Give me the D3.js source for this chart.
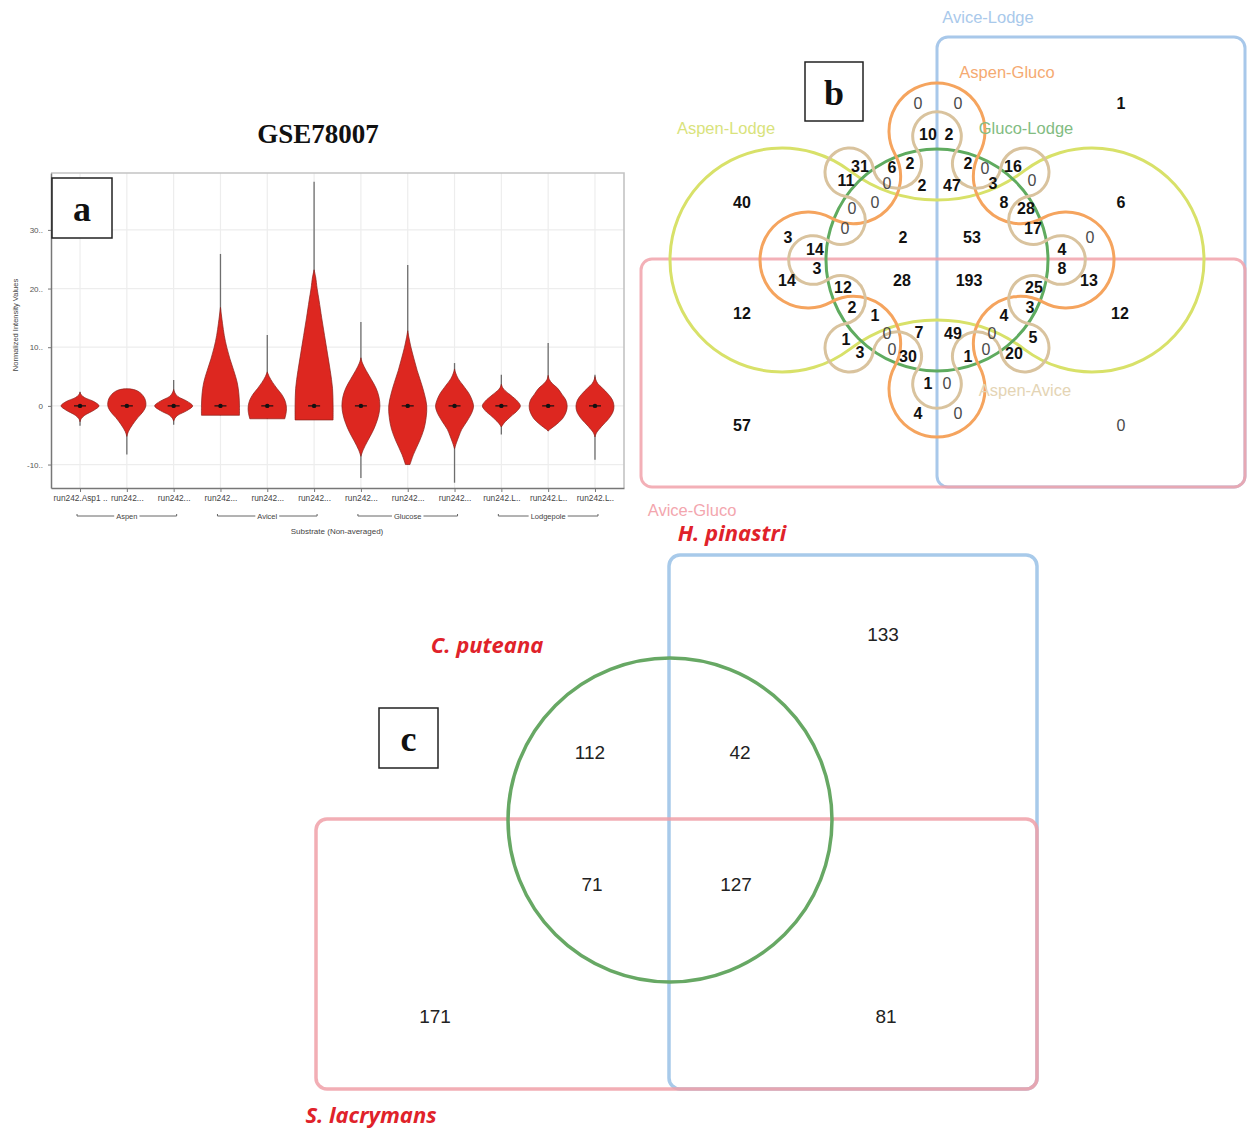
<!DOCTYPE html>
<html>
<head>
<meta charset="utf-8">
<script src="https://cdn.jsdelivr.net/npm/d3@7"></script>
<style>
  html, body { margin: 0; padding: 0; background: #fff; }
  svg { display: block; }
</style>
</head>
<body>
<svg id="fig" width="1247" height="1129"></svg>
<script>
// ---------------- Panel a: violin plot data ----------------
const sampleLabels = ["run242.Asp1 ..", "run242...", "run242...", "run242...", "run242...", "run242...",
                      "run242...", "run242...", "run242...", "run242.L..", "run242.L..", "run242.L.."];
const substrateGroups = ["Aspen", "Avicel", "Glucose", "Lodgepole"];
const groupOfSample = [0, 0, 0, 1, 1, 1, 2, 2, 2, 3, 3, 3];
const whiskerLow  = [-3.4, -8.3, -3.2, -1.6, -2.2, -2.4, -12.3, -10.0, -13.1, -4.9, -4.3, -9.2];
const whiskerHigh = [ 2.4,  2.9,  4.4, 25.9, 12.1, 38.2,  14.3,  24.0,   7.3,  5.3, 10.7,  5.3];
const medians     = [0, 0, 0, 0, 0, 0, 0, 0, 0, 0, 0, 0];
// density profiles: [value, relative half-width]
const densityProfiles = [
  [[-2.7,0],[-2.2,0.06],[-1.6,0.25],[-0.7,0.75],[0,1],[0.7,0.75],[1.4,0.25],[1.9,0.06],[2.3,0]],
  [[-5.2,0],[-4.4,0.08],[-3.2,0.3],[-2,0.58],[-1,0.85],[0,1],[1.2,0.95],[2.2,0.72],[2.7,0.45],[2.9,0.15]],
  [[-2.6,0],[-2.1,0.07],[-1.6,0.22],[-0.8,0.7],[0,1],[0.8,0.7],[1.6,0.22],[2.2,0.07],[2.8,0]],
  [[-1.6,1.0],[0,1.0],[2,0.97],[4,0.88],[6,0.7],[8,0.5],[10,0.33],[12,0.2],[14,0.11],[15.5,0.05],[16.8,0]],
  [[-2.2,0.92],[-1,1.0],[0,1.0],[1,0.92],[2,0.75],[3,0.5],[4,0.28],[5,0.1],[5.8,0]],
  [[-2.4,1.0],[0,1.0],[3,0.97],[6,0.85],[9,0.7],[12,0.55],[15,0.4],[18,0.26],[20,0.16],[22,0.08],[23.2,0]],
  [[-8.6,0],[-7.5,0.12],[-6,0.35],[-4.5,0.6],[-3,0.8],[-1.5,0.94],[0,1],[1.5,0.95],[3,0.8],[4.5,0.55],[6,0.28],[7.3,0.08],[8.2,0]],
  [[-10,0.12],[-8.3,0.3],[-6,0.62],[-4,0.85],[-2,0.97],[0,1],[2,0.88],[4,0.7],[6,0.5],[8,0.33],[10,0.17],[11.7,0.06],[12.8,0]],
  [[-7.3,0],[-6.3,0.1],[-5,0.25],[-4,0.38],[-2.5,0.68],[-1,0.93],[0,1],[1,0.92],[2,0.78],[3.5,0.45],[4.6,0.2],[5.6,0.06],[6.3,0]],
  [[-3.6,0],[-2.9,0.15],[-1.8,0.5],[-0.8,0.85],[0,1],[0.8,0.85],[1.8,0.5],[2.6,0.2],[3.1,0.07],[3.7,0]],
  [[-4.3,0],[-4.0,0.1],[-3.2,0.42],[-2.2,0.75],[-1,0.95],[0,1],[1,0.93],[2,0.72],[3,0.5],[3.8,0.22],[4.5,0.06],[5.2,0]],
  [[-5.3,0],[-4.6,0.08],[-3.5,0.35],[-2.2,0.72],[-1,0.95],[0,1],[1,0.92],[2,0.7],[3,0.4],[3.8,0.15],[4.4,0.05],[5.0,0]]
];
const yTickValues = [-10, 0, 10, 20, 30];
const yTickLabels = ["-10..", "0", "10..", "20..", "30.."];

// ---------------- Panel b: six-set Venn data ----------------
const vennBSets = ["Avice-Lodge", "Aspen-Gluco", "Gluco-Lodge", "Aspen-Lodge", "Aspen-Avice", "Avice-Gluco"];
const vennBCounts = [
  1, 40, 6, 12, 12, 57, 0,
  0, 0, 10, 2,
  31, 6, 2, 11, 0, 2, 47, 2, 0, 16, 3, 0,
  0, 0, 0, 8, 28, 17,
  3, 14, 2, 53, 4, 0,
  14, 3, 28, 193, 8, 13,
  12, 25,
  2, 1, 4, 3,
  1, 0, 7, 49, 0, 5,
  3, 0, 30, 1, 0, 20,
  1, 0,
  4, 0
];

// ---------------- Panel c: three-species Venn data ----------------
const vennCSets = ["H. pinastri", "C. puteana", "S. lacrymans"];
const vennCCounts = [133, 112, 42, 71, 127, 171, 81];

// ---------------- layout ----------------
const vennBCountPos = [
  [1121,103],[742,202],[1121,202],[742,313],[1120,313],[742,425],[1121,425],
  [918,103],[958,103],[928,134],[949,134],
  [860,166],[892,167],[910,163],[846,180],[887,183],[922,185],[952,185],[968,163],[985,168],[1013,166],[993,183],[1032,180],
  [875,202],[852,208],[845,228],[1004,202],[1026,208],[1033,228],
  [788,237],[815,249],[903,237],[972,237],[1062,249],[1090,237],
  [787,280],[817,268],[902,280],[969,280],[1062,268],[1089,280],
  [843,287],[1034,287],
  [852,307],[875,315],[1004,315],[1030,307],
  [846,339],[887,333],[919,332],[953,333],[992,333],[1033,337],
  [860,352],[892,349],[908,356],[968,356],[986,349],[1014,353],
  [928,383],[947,383],
  [918,413],[958,413]
];
const vennBSetLabelPos = [[988,17],[1007,72],[1026,128],[726,128],[1025,390],[692,510]];
const vennBColors = ["#a8c8ea", "#f5a45e", "#5fab5f", "#d8e169", "#d9c39e", "#f1a2aa"];
const vennBLabelColors = ["#a9c9eb", "#f5aa72", "#82bc82", "#d9e37c", "#e4d4b4", "#f3a6ae"];
const vennCCountPos = [[883,634],[590,752],[740,752],[592,884],[736,884],[435,1016],[886,1016]];
const vennCSetLabelPos = [[732,532],[487,644],[371,1114]];

const svg = d3.select("#fig");
const sans = "'Liberation Sans', Arial, sans-serif";
const serif = "'Liberation Serif', 'Times New Roman', serif";

function labelBox(x, y, w, h, letter) {
  svg.append("rect").attr("x", x).attr("y", y).attr("width", w).attr("height", h)
    .attr("fill", "#fff").attr("stroke", "#222").attr("stroke-width", 1.5);
  svg.append("text").attr("x", x + w / 2).attr("y", y + h / 2 + 1)
    .attr("text-anchor", "middle").attr("dominant-baseline", "central")
    .attr("font-family", serif).attr("font-weight", "bold").attr("font-size", 36)
    .attr("fill", "#111").text(letter);
}

// ================= Panel a =================
const aLeft = 51, aRight = 624, aTop = 173, aBottom = 488;
const xA = d3.scalePoint().domain(d3.range(sampleLabels.length)).range([aLeft, aRight]).padding(0.62);
const yA = d3.scaleLinear().domain([-14, 39.7]).range([aBottom, aTop]);
const wA = d3.scaleLinear().domain([0, 1]).range([0, 19]);
const gA = svg.append("g");

gA.append("text").attr("x", 318).attr("y", 134).attr("text-anchor", "middle")
  .attr("dominant-baseline", "central").attr("font-family", serif).attr("font-weight", "bold")
  .attr("font-size", 27).attr("fill", "#111").text("GSE78007");

// grid
gA.append("g").selectAll("line").data(d3.range(sampleLabels.length)).join("line")
  .attr("x1", i => xA(i)).attr("x2", i => xA(i)).attr("y1", aTop).attr("y2", aBottom)
  .attr("stroke", "#ededed").attr("stroke-width", 1.2);
gA.append("g").selectAll("line").data(yTickValues).join("line")
  .attr("x1", aLeft).attr("x2", aRight).attr("y1", d => yA(d)).attr("y2", d => yA(d))
  .attr("stroke", "#ededed").attr("stroke-width", 1.2);

// frame
gA.append("path").attr("d", `M${aLeft},${aTop}H${aRight}V${aBottom}`)
  .attr("fill", "none").attr("stroke", "#c4c4c4").attr("stroke-width", 1.6);

// axes
const yAxis = d3.axisLeft(yA).tickValues(yTickValues).tickFormat((d, i) => yTickLabels[i])
  .tickSize(3).tickSizeOuter(0).tickPadding(5);
const yAxG = gA.append("g").attr("transform", `translate(${aLeft},0)`).call(yAxis);
yAxG.select(".domain").attr("stroke", "#777").attr("stroke-width", 1.5);
yAxG.selectAll(".tick line").attr("stroke", "#777");
yAxG.selectAll(".tick text").attr("font-family", sans).attr("font-size", 8).attr("fill", "#555");

const xAxis = d3.axisBottom(xA).tickFormat(i => sampleLabels[i]).tickSize(4).tickSizeOuter(0).tickPadding(3);
const xAxG = gA.append("g").attr("transform", `translate(0,${aBottom})`).call(xAxis);
xAxG.select(".domain").attr("stroke", "#777").attr("stroke-width", 1.5);
xAxG.selectAll(".tick line").attr("stroke", "#777");
xAxG.selectAll(".tick text").attr("font-family", sans).attr("font-size", 8.3).attr("fill", "#444");

gA.append("text").attr("transform", "translate(15,325) rotate(-90)").attr("text-anchor", "middle")
  .attr("dominant-baseline", "central").attr("font-family", sans).attr("font-size", 7.5)
  .attr("fill", "#444").text("Normalized Intensity Values");

// substrate group brackets
const groupG = gA.append("g");
substrateGroups.forEach((name, gi) => {
  const idx = d3.range(sampleLabels.length).filter(i => groupOfSample[i] === gi);
  const x0 = xA(idx[0]) - 3, x1 = xA(idx[idx.length - 1]) + 3, yb = 516;
  const xm = (x0 + x1) / 2;
  const t = groupG.append("text").attr("x", xm).attr("y", yb).attr("text-anchor", "middle")
    .attr("dominant-baseline", "central").attr("font-family", sans).attr("font-size", 7.5)
    .attr("fill", "#444").text(name);
  const half = t.node().getComputedTextLength() / 2 + 2;
  groupG.append("path").attr("d", `M${x0},${yb - 2}V${yb}H${xm - half}M${xm + half},${yb}H${x1}V${yb - 2}`)
    .attr("fill", "none").attr("stroke", "#666").attr("stroke-width", 1);
});
gA.append("text").attr("x", 337).attr("y", 531).attr("text-anchor", "middle")
  .attr("dominant-baseline", "central").attr("font-family", sans).attr("font-size", 8)
  .attr("fill", "#444").text("Substrate (Non-averaged)");

// whiskers
gA.append("g").selectAll("line").data(d3.range(sampleLabels.length)).join("line")
  .attr("x1", i => xA(i)).attr("x2", i => xA(i))
  .attr("y1", i => yA(whiskerLow[i])).attr("y2", i => yA(whiskerHigh[i]))
  .attr("stroke", "#6e6e6e").attr("stroke-width", 1.3);

// violins
const violinArea = (cx) => d3.area()
  .y(d => yA(d[0]))
  .x0(d => cx - wA(d[1]))
  .x1(d => cx + wA(d[1]))
  .curve(d3.curveCatmullRom.alpha(0.5));
gA.append("g").selectAll("path").data(d3.range(sampleLabels.length)).join("path")
  .attr("d", i => violinArea(xA(i))(densityProfiles[i]))
  .attr("fill", "#dd2720").attr("stroke", "#8a1f1a").attr("stroke-width", 0.7);

// median markers
const medG = gA.append("g");
d3.range(sampleLabels.length).forEach(i => {
  medG.append("line").attr("x1", xA(i) - 6).attr("x2", xA(i) + 6)
    .attr("y1", yA(medians[i])).attr("y2", yA(medians[i]))
    .attr("stroke", "#111").attr("stroke-width", 1.2);
  medG.append("circle").attr("cx", xA(i)).attr("cy", yA(medians[i])).attr("r", 2.2).attr("fill", "#111");
});

labelBox(52, 178, 60, 60, "a");

// ================= Panel b =================
const gB = svg.append("g");
const bcx = 937, bcy = 260;

// closed curve built from a ring of mutually tangent circles; "out" circles bulge outward
function lobeChain(cx, cy, lobes, rOut, equalRadii) {
  const pts = lobes.map(l => ({
    x: cx + l.dist * Math.cos(l.ang * Math.PI / 180),
    y: cy + l.dist * Math.sin(l.ang * Math.PI / 180),
    out: l.out
  }));
  const n = pts.length;
  const sep = Math.hypot(pts[1].x - pts[0].x, pts[1].y - pts[0].y);
  pts.forEach(p => p.r = equalRadii ? sep / 2 : (p.out ? rOut : sep - rOut));
  const path = d3.path();
  pts.forEach((p, i) => {
    const prev = pts[(i - 1 + n) % n], next = pts[(i + 1) % n];
    const a0 = Math.atan2(prev.y - p.y, prev.x - p.x);
    const a1 = Math.atan2(next.y - p.y, next.x - p.x);
    if (i === 0) path.moveTo(p.x + p.r * Math.cos(a0), p.y + p.r * Math.sin(a0));
    path.arc(p.x, p.y, p.r, a0, a1, !p.out);
  });
  path.closePath();
  return path.toString();
}

// Avice-Lodge (right half) and Avice-Gluco (bottom half)
gB.append("rect").attr("x", 937).attr("y", 37).attr("width", 308).attr("height", 450).attr("rx", 11)
  .attr("fill", "none").attr("stroke", vennBColors[0]).attr("stroke-width", 3);
gB.append("rect").attr("x", 641).attr("y", 259).attr("width", 604).attr("height", 228).attr("rx", 11)
  .attr("fill", "none").attr("stroke", vennBColors[5]).attr("stroke-width", 3).attr("stroke-opacity", 0.85);

// Aspen-Lodge: two large lobes joined by gentle saddles
const yellowLobes = d3.range(4).map(k => ({ang: k * 90, dist: k % 2 === 0 ? 155 : 205, out: k % 2 === 0}));
gB.append("path").attr("d", lobeChain(bcx, bcy, yellowLobes, 112, false))
  .attr("fill", "none").attr("stroke", vennBColors[3]).attr("stroke-width", 3);

// Gluco-Lodge: central circle
gB.append("circle").attr("cx", bcx).attr("cy", bcy).attr("r", 111)
  .attr("fill", "none").attr("stroke", vennBColors[2]).attr("stroke-width", 3);

// Aspen-Gluco: four-lobed curve
const orangeLobes = d3.range(8).map(k => ({ang: k * 45, dist: k % 2 === 0 ? 129 : 118, out: k % 2 === 0}));
gB.append("path").attr("d", lobeChain(bcx, bcy, orangeLobes, 48, false))
  .attr("fill", "none").attr("stroke", vennBColors[1]).attr("stroke-width", 3);

// Aspen-Avice: eight-lobed wavy curve
const tanLobes = d3.range(16).map(k => ({ang: k * 22.5, dist: k % 2 === 0 ? 124 : 104, out: k % 2 === 0}));
gB.append("path").attr("d", lobeChain(bcx, bcy, tanLobes, 0, true))
  .attr("fill", "none").attr("stroke", vennBColors[4]).attr("stroke-width", 3);

// set names
gB.append("g").selectAll("text").data(vennBSets).join("text")
  .attr("x", (d, i) => vennBSetLabelPos[i][0]).attr("y", (d, i) => vennBSetLabelPos[i][1])
  .attr("text-anchor", "middle").attr("dominant-baseline", "central")
  .attr("font-family", sans).attr("font-size", 16.5)
  .attr("fill", (d, i) => vennBLabelColors[i]).text(d => d);

// region counts
gB.append("g").selectAll("text").data(vennBCounts).join("text")
  .attr("x", (d, i) => vennBCountPos[i][0]).attr("y", (d, i) => vennBCountPos[i][1])
  .attr("text-anchor", "middle").attr("dominant-baseline", "central")
  .attr("font-family", sans).attr("font-size", 16)
  .attr("font-weight", d => d === 0 ? "normal" : "bold")
  .attr("fill", d => d === 0 ? "#4a4a4a" : "#111").text(d => d);

labelBox(805, 62, 58, 59, "b");

// ================= Panel c =================
const gC = svg.append("g");
gC.append("rect").attr("x", 669).attr("y", 555).attr("width", 368).attr("height", 534).attr("rx", 11)
  .attr("fill", "none").attr("stroke", "#a8caea").attr("stroke-width", 3.5);
gC.append("rect").attr("x", 316).attr("y", 819).attr("width", 721).attr("height", 270).attr("rx", 11)
  .attr("fill", "none").attr("stroke", "#f0a0a8").attr("stroke-width", 3.5).attr("stroke-opacity", 0.85);
gC.append("circle").attr("cx", 670).attr("cy", 820).attr("r", 162)
  .attr("fill", "none").attr("stroke", "#67a864").attr("stroke-width", 3.5);

gC.append("g").selectAll("text").data(vennCSets).join("text")
  .attr("x", (d, i) => vennCSetLabelPos[i][0]).attr("y", (d, i) => vennCSetLabelPos[i][1])
  .attr("text-anchor", "middle").attr("dominant-baseline", "central")
  .attr("font-family", "'Open Sans', 'Noto Sans', sans-serif").attr("font-weight", "bold")
  .attr("font-style", "italic").attr("font-size", 22).attr("fill", "#e0222a").text(d => d);

gC.append("g").selectAll("text").data(vennCCounts).join("text")
  .attr("x", (d, i) => vennCCountPos[i][0]).attr("y", (d, i) => vennCCountPos[i][1])
  .attr("text-anchor", "middle").attr("dominant-baseline", "central")
  .attr("font-family", sans).attr("font-size", 19).attr("fill", "#222").text(d => d);

labelBox(379, 708, 59, 60, "c");
</script>
</body>
</html>
